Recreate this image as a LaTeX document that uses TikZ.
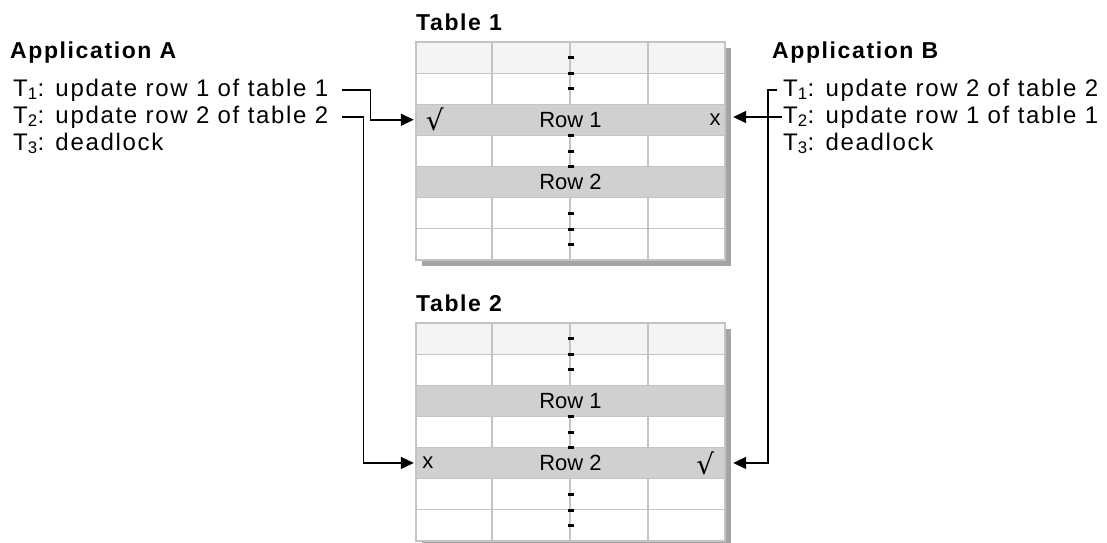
\documentclass[tikz,border=0pt]{standalone}
\usepackage{fontspec}
\setmainfont{Liberation Sans}[LetterSpace=7]
\newfontfamily\symfont{DejaVu Sans}
\usetikzlibrary{arrows.meta}
\definecolor{gridgray}{HTML}{C4C4C4}
\definecolor{rowgray}{HTML}{D0D0D0}
\definecolor{headgray}{HTML}{F4F4F4}
\definecolor{shadegray}{HTML}{A4A4A4}
\tikzset{
  bigtitle/.style={anchor=west, inner sep=0pt, font=\fontsize{23}{27}\selectfont\bfseries},
  txline/.style={anchor=base west, inner sep=0pt, text height=17pt, text depth=5pt, font=\fontsize{24}{28}\selectfont},
  rowbar/.style={fill=rowgray, minimum width=309pt, minimum height=31.1pt, inner sep=0pt, font=\fontsize{22}{26}\selectfont\addfontfeature{LetterSpace=0}},
  lockmark/.style={inner sep=0pt, font=\fontsize{22}{26}\selectfont},
  gridline/.style={gridgray, line width=1.2pt},
  link/.style={line width=1.6pt, -{Triangle[length=13pt,width=12pt]}, shorten >=2pt},
}

\begin{document}
\begin{tikzpicture}[x=1pt,y=-1pt]
    \useasboundingbox (0,0) rectangle (1107,542);
    % the two tables
    \foreach \ytop/\tn in {42/1,323/2} {
        \fill[shadegray] (422,\ytop+6) rectangle (731,\ytop+224);
        \fill[white] (416,\ytop) rectangle (725,\ytop+218);
        \fill[headgray] (416,\ytop) rectangle (725,\ytop+31.1);
        \node[rowbar] (t\tn r1) at (570.5,\ytop+77.75) {Row 1};
        \node[rowbar] (t\tn r2) at (570.5,\ytop+139.95) {Row 2};
        \foreach \k in {1,...,6} \draw[gridline] (416,\ytop+\k*31.1) -- (725,\ytop+\k*31.1);
        \foreach \c in {492,570,648} {
            \draw[gridline] (\c,\ytop) -- (\c,\ytop+62.2);
            \draw[gridline] (\c,\ytop+93.3) -- (\c,\ytop+124.4);
            \draw[gridline] (\c,\ytop+155.5) -- (\c,\ytop+218);
        }
        \draw[gridline] (416,\ytop) rectangle (725,\ytop+218);
        \foreach \d in {1,2,3,6,7,8,11,12,13} \fill (567.5,\ytop+\d*15.6-1.5) rectangle ++(6,3);
        \node[bigtitle] (tab\tn) at (416,\ytop-19.5) {Table \tn};
    }
    % locks
    \node[lockmark] (ok1) at ([xshift=19pt]t1r1.west) {\symfont\fontsize{28}{32}\selectfont √};
    \node[lockmark] (no1) at ([xshift=-10pt]t1r1.east) {x};
    \node[lockmark] (no2) at ([xshift=12pt]t2r2.west) {x};
    \node[lockmark] (ok2) at ([xshift=-20pt]t2r2.east) {\symfont\fontsize{28}{32}\selectfont √};
    % application A
    \node[bigtitle] (appa) at (10,53) {Application A};
    \node[txline] (a1) at (13,96) {T\textsubscript{1}: update row 1 of table 1};
    \node[txline] (a2) at (13,123) {T\textsubscript{2}: update row 2 of table 2};
    \node[txline] (a3) at (13,150) {T\textsubscript{3}: deadlock};
    % application B
    \node[bigtitle] (appb) at (772,53) {Application B};
    \node[txline] (b1) at (783,96) {T\textsubscript{1}: update row 2 of table 2};
    \node[txline] (b2) at (783,123) {T\textsubscript{2}: update row 1 of table 1};
    \node[txline] (b3) at (783,150) {T\textsubscript{3}: deadlock};
    % requests
    \draw[link] ([xshift=14pt]a1.east) -- ++(28,0) |- (t1r1.west);
    \draw[link] ([xshift=14pt]a2.east) -- ++(21,0) |- (t2r2.west);
    \draw[link] ([xshift=-6pt]b1.west) -- ++(-9,0) |- ([xshift=6pt]t2r2.east);
    \draw[link] ([xshift=-1pt]b2.west) -- ([xshift=6pt]b2.west -| t1r1.east);
\end{tikzpicture}
\end{document}
